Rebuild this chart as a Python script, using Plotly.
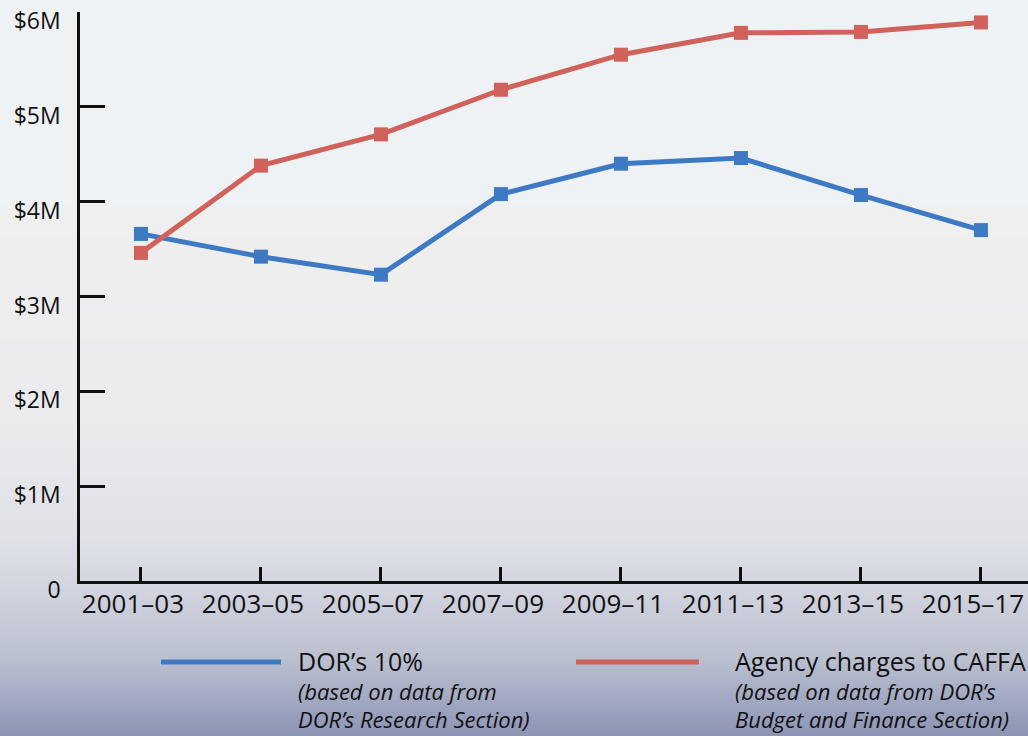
import plotly.graph_objects as go

periods = ["2001–03", "2003–05", "2005–07", "2007–09", "2009–11", "2011–13", "2013–15", "2015–17"]
dor_10pct = [3.66, 3.42, 3.23, 4.08, 4.40, 4.46, 4.07, 3.70]
agency_charges = [3.46, 4.38, 4.71, 5.18, 5.55, 5.78, 5.79, 5.89]
y_tickvals = [0, 1, 2, 3, 4, 5, 6]
y_ticktext = ["0", "$1M", "$2M", "$3M", "$4M", "$5M", "$6M"]

legend_items = [
    ("DOR’s 10%", "(based on data from", "DOR’s Research Section)"),
    ("Agency charges to CAFFA", "(based on data from DOR’s", "Budget and Finance Section)"),
]

BLUE = "#3e7ac4"
RED = "#d0615b"
FONT = "Open Sans"

W, H = 1028, 736
L, T, B = 80, 12, 155
PW, PH = W - L, H - T - B

def px_x(px):
    return (px - L) / PW

def px_y(py):
    return (H - B - py) / PH

fig = go.Figure()
fig.add_trace(go.Scatter(x=list(range(len(periods))), y=dor_10pct, mode="lines+markers",
                         line=dict(color=BLUE, width=5),
                         marker=dict(symbol="square", size=14, color=BLUE),
                         name=legend_items[0][0], showlegend=False, cliponaxis=False))
fig.add_trace(go.Scatter(x=list(range(len(periods))), y=agency_charges, mode="lines+markers",
                         line=dict(color=RED, width=5),
                         marker=dict(symbol="square", size=14, color=RED),
                         name=legend_items[1][0], showlegend=False, cliponaxis=False))

# background gradient (style only)
stops = [(0, (238, 242, 244)), (205, (238, 242, 244)), (210, (239, 239, 239)), (420, (235, 235, 238)),
         (540, (223, 225, 231)), (600, (206, 209, 220)), (660, (186, 191, 207)), (690, (168, 174, 197)),
         (736, (140, 148, 180))]

def col_at(py):
    for (y0, c0), (y1, c1) in zip(stops[:-1], stops[1:]):
        if y0 <= py <= y1:
            t = 0 if y1 == y0 else (py - y0) / (y1 - y0)
            return "rgb(%d,%d,%d)" % tuple(round(a + (b - a) * t) for a, b in zip(c0, c1))
    return "rgb(%d,%d,%d)" % stops[-1][1]

shapes = []
step = 4
for py in range(0, H, step):
    shapes.append(dict(type="rect", xref="paper", yref="paper", layer="below",
                       x0=px_x(-2), x1=px_x(W + 2), y0=px_y(py + step + 0.5), y1=px_y(py),
                       fillcolor=col_at(py + step / 2), line=dict(width=0)))

annotations = []
legend_x = [(161, 281, 296), (576, 699, 733)]
for (lx0, lx1, tx), (title, sub1, sub2), c in zip(legend_x, legend_items, [BLUE, RED]):
    shapes.append(dict(type="line", xref="paper", yref="paper", x0=px_x(lx0), x1=px_x(lx1),
                       y0=px_y(662), y1=px_y(662), line=dict(color=c, width=5)))
    text = ('<span style="font-size:25px">' + title + '</span><br>'
            '<i><span style="font-size:22px">' + sub1 + '</span></i><br>'
            '<i><span style="font-size:22px">' + sub2 + '</span></i>')
    annotations.append(dict(xref="paper", yref="paper", x=px_x(tx), y=px_y(689), text=text,
                            showarrow=False, xanchor="left", yanchor="middle", align="left",
                            font=dict(family=FONT, size=22, color="#111")))

fig.update_layout(
    width=W, height=H,
    margin=dict(l=L, r=0, t=T, b=B, pad=0),
    paper_bgcolor="#eef2f4", plot_bgcolor="rgba(0,0,0,0)",
    shapes=shapes, annotations=annotations,
    xaxis=dict(tickvals=list(range(len(periods))), ticktext=periods, range=[-0.508, 7.392],
               showgrid=False, zeroline=False, showline=True, linecolor="#111", linewidth=2.5,
               ticks="inside", ticklen=14, tickwidth=2.5, tickcolor="#111",
               tickfont=dict(family=FONT, size=26, color="#111"), ticklabelshift=-8, ticklabelstandoff=-2),
    yaxis=dict(tickvals=y_tickvals, ticktext=y_ticktext, range=[0, 6],
               showgrid=False, zeroline=False, showline=True, linecolor="#111", linewidth=2.5,
               ticks="inside", ticklen=25, tickwidth=2.5, tickcolor="#111",
               tickfont=dict(family=FONT, size=23, color="#111"), ticklabelshift=9, ticklabelstandoff=12),
)

fig.write_html("out.html", config={"displayModeBar": False})
